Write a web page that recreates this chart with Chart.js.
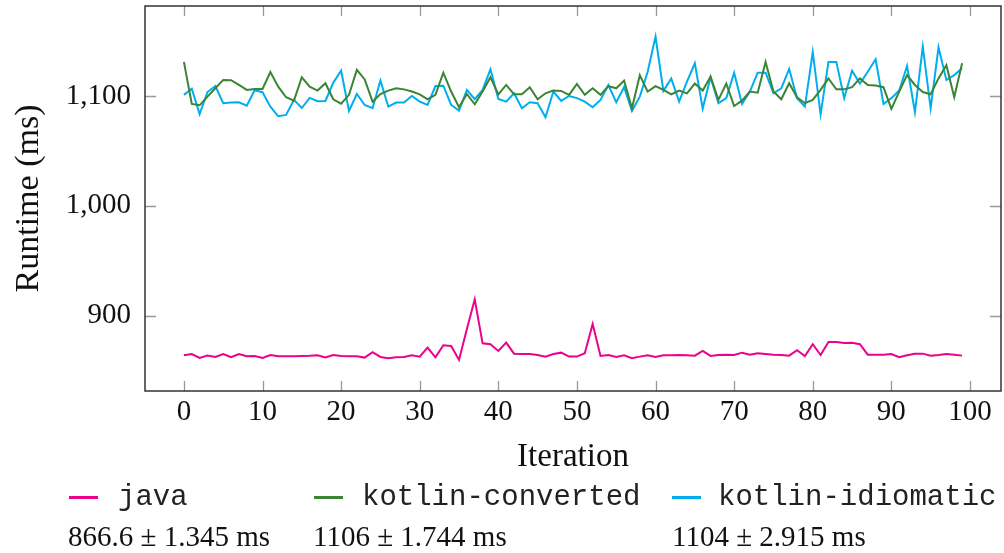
<!DOCTYPE html>
<html>
<head>
<meta charset="utf-8">
<script src="https://cdn.jsdelivr.net/npm/chart.js@4/dist/chart.umd.min.js"></script>
<style>
  body { margin: 0; background: #fff; }
  #wrap { position: relative; width: 1004px; height: 553px; }
  #chart { position: absolute; left: 0; top: 0; }
  .leg { position: absolute; font-family: "Liberation Mono", "DejaVu Sans Mono", monospace; font-size: 29px; color: #222; white-space: nowrap; }
  .sw { position: absolute; height: 3px; width: 29px; }
  .stat { position: absolute; font-family: "Liberation Serif", "DejaVu Serif", serif; font-size: 29px; color: #111; white-space: nowrap; }
</style>
</head>
<body>
<div id="wrap">
  <canvas id="chart" width="1004" height="553"></canvas>
  <div class="sw" style="left:69px;top:496px;background:#ec008c"></div>
  <div class="leg" style="left:118px;top:481px">java</div>
  <div class="sw" style="left:314px;top:496px;background:#3b8434"></div>
  <div class="leg" style="left:362px;top:481px">kotlin-converted</div>
  <div class="sw" style="left:672px;top:496px;background:#00aeef"></div>
  <div class="leg" style="left:718px;top:481px">kotlin-idiomatic</div>
  <div class="stat" style="left:68px;top:520px">866.6 ± 1.345 ms</div>
  <div class="stat" style="left:313px;top:520px">1106 ± 1.744 ms</div>
  <div class="stat" style="left:672px;top:520px">1104 ± 2.915 ms</div>
</div>
<script>
const iterations = Array.from({length: 100}, (_, i) => i);

const java = [
  863.9, 865.1, 861.5, 863.6, 862.4, 865.1, 862.1, 865.1, 863.0, 863.3,
  861.5, 864.2, 863.0, 863.0, 863.0, 863.2, 863.5, 864.0, 862.0, 864.2,
  863.3, 863.0, 863.0, 861.8, 866.7, 862.4, 861.2, 862.1, 862.4, 863.9,
  862.7, 870.9, 862.1, 873.0, 872.4, 859.7, 887.9, 914.9, 874.8, 874.0,
  867.9, 875.4, 865.4, 865.1, 865.1, 864.2, 862.7, 865.1, 866.3, 862.7,
  862.7, 865.8, 892.4, 863.3, 864.2, 862.4, 863.9, 861.2, 862.7, 863.9,
  862.4, 863.9, 863.9, 864.2, 863.9, 863.6, 867.9, 863.3, 864.2, 864.5,
  864.2, 866.3, 864.5, 865.8, 865.1, 864.5, 864.2, 863.6, 868.5, 863.3,
  874.0, 864.2, 876.1, 876.1, 875.2, 875.4, 874.0, 864.5, 864.5, 864.5,
  865.1, 862.1, 863.9, 865.4, 865.4, 863.6, 864.2, 865.1, 864.5, 863.6
];

const kotlinConverted = [
  1131.0, 1092.7, 1091.5, 1099.4, 1107.0, 1114.6, 1114.3, 1110.0, 1105.5, 1106.4,
  1106.4, 1121.8, 1108.5, 1098.8, 1095.7, 1117.0, 1108.5, 1104.9, 1111.6, 1097.0,
  1093.0, 1101.0, 1123.7, 1115.0, 1094.8, 1101.8, 1104.9, 1107.0, 1106.0, 1104.0,
  1101.5, 1097.0, 1101.0, 1121.2, 1104.0, 1089.7, 1101.8, 1092.4, 1104.0, 1117.0,
  1101.5, 1110.0, 1101.5, 1101.5, 1107.9, 1097.0, 1102.4, 1104.9, 1104.6, 1101.0,
  1111.0, 1101.0, 1107.0, 1101.0, 1109.0, 1107.0, 1114.0, 1088.8, 1118.8, 1104.0,
  1109.0, 1105.5, 1101.5, 1104.9, 1102.4, 1111.3, 1104.9, 1117.6, 1096.4, 1111.3,
  1090.9, 1095.7, 1104.0, 1103.0, 1131.0, 1104.0, 1097.0, 1111.6, 1098.8, 1093.4,
  1096.4, 1105.5, 1116.0, 1106.0, 1106.0, 1108.0, 1116.0, 1110.0, 1109.6, 1108.0,
  1088.2, 1104.0, 1119.0, 1110.0, 1103.6, 1101.5, 1116.0, 1128.0, 1098.8, 1129.7
];

const kotlinIdiomatic = [
  1101.0, 1106.7, 1083.6, 1103.6, 1109.0, 1093.4, 1094.0, 1094.3, 1091.2, 1105.2,
  1103.4, 1090.3, 1081.5, 1082.7, 1096.4, 1089.0, 1098.2, 1095.2, 1095.5, 1112.0,
  1123.0, 1086.3, 1101.8, 1091.8, 1088.8, 1114.0, 1090.3, 1094.0, 1094.0, 1100.0,
  1094.8, 1091.8, 1109.0, 1109.3, 1091.8, 1086.6, 1105.5, 1097.0, 1105.5, 1124.3,
  1097.3, 1094.8, 1102.4, 1088.8, 1094.3, 1093.4, 1080.6, 1104.0, 1095.5, 1100.0,
  1098.0, 1094.8, 1089.7, 1096.4, 1110.0, 1094.3, 1108.0, 1086.3, 1099.4, 1122.0,
  1154.0, 1104.6, 1115.8, 1094.8, 1113.0, 1129.7, 1088.5, 1117.0, 1093.4, 1098.0,
  1121.2, 1092.7, 1104.0, 1121.2, 1121.2, 1102.4, 1107.0, 1124.6, 1098.0, 1090.3,
  1139.8, 1083.3, 1131.0, 1131.0, 1098.0, 1123.0, 1111.3, 1122.0, 1133.4, 1092.7,
  1098.0, 1104.9, 1127.3, 1085.4, 1144.9, 1088.8, 1144.3, 1114.5, 1119.0, 1125.2
];

const xTicks = [0, 10, 20, 30, 40, 50, 60, 70, 80, 90, 100];
const yTicks = [900, 1000, 1100];

const serif = '"Liberation Serif", "DejaVu Serif", serif';

// frame + inward ticks on all four sides, like pgfplots
const framePlugin = {
  id: 'frame',
  afterDatasetsDraw(chart) {
    const {ctx, chartArea: a, scales} = chart;
    ctx.save();
    ctx.strokeStyle = '#999';
    ctx.lineWidth = 1.3;
    ctx.beginPath();
    scales.x.ticks.forEach((t, i) => {
      const px = Math.round(scales.x.getPixelForTick(i)) + 0.5;
      ctx.moveTo(px, a.bottom); ctx.lineTo(px, a.bottom - 10);
      ctx.moveTo(px, a.top); ctx.lineTo(px, a.top + 10);
    });
    scales.y.ticks.forEach((t, i) => {
      const py = Math.round(scales.y.getPixelForTick(i)) + 0.5;
      ctx.moveTo(a.left, py); ctx.lineTo(a.left + 11, py);
      ctx.moveTo(a.right, py); ctx.lineTo(a.right - 11, py);
    });
    ctx.stroke();
    ctx.strokeStyle = '#333';
    ctx.lineWidth = 1.5;
    ctx.strokeRect(a.left, a.top, a.right - a.left, a.bottom - a.top);
    ctx.restore();
  }
};

new Chart(document.getElementById('chart').getContext('2d'), {
  type: 'line',
  data: {
    labels: iterations,
    datasets: [
      { label: 'java', data: java, borderColor: '#ec008c' },
      { label: 'kotlin-converted', data: kotlinConverted, borderColor: '#3b8434' },
      { label: 'kotlin-idiomatic', data: kotlinIdiomatic, borderColor: '#00aeef' }
    ].map(d => Object.assign(d, { borderWidth: 2, pointRadius: 0, tension: 0, fill: false }))
  },
  options: {
    responsive: false,
    animation: false,
    layout: { padding: { top: 6, right: 3, bottom: 76, left: 0 } },
    plugins: { legend: { display: false }, tooltip: { enabled: false } },
    scales: {
      x: {
        type: 'linear',
        min: -4.95,
        max: 103.95,
        afterBuildTicks: s => { s.ticks = xTicks.map(v => ({ value: v })); },
        afterFit: s => { s.height = 86; s.paddingLeft = 0; s.paddingRight = 0; },
        grid: { display: false, drawTicks: false },
        border: { display: false },
        ticks: { color: '#111', font: { family: serif, size: 29 }, padding: 4, maxRotation: 0 },
        title: { display: true, text: 'Iteration', color: '#111', font: { family: serif, size: 33 }, padding: { top: 0, bottom: 0 } }
      },
      y: {
        min: 831.4,
        max: 1181.9,
        afterBuildTicks: s => { s.ticks = yTicks.map(v => ({ value: v })); },
        afterFit: s => { s.width = 145; s.paddingTop = 0; s.paddingBottom = 0; },
        grid: { display: false, drawTicks: false },
        border: { display: false },
        ticks: {
          color: '#111', font: { family: serif, size: 29 }, padding: 14,
          callback: v => v.toLocaleString('en-US')
        },
        title: { display: true, text: 'Runtime (ms)', color: '#111', font: { family: serif, size: 34 }, padding: { top: 9, bottom: 0 } }
      }
    }
  },
  plugins: [framePlugin]
});
</script>
</body>
</html>
